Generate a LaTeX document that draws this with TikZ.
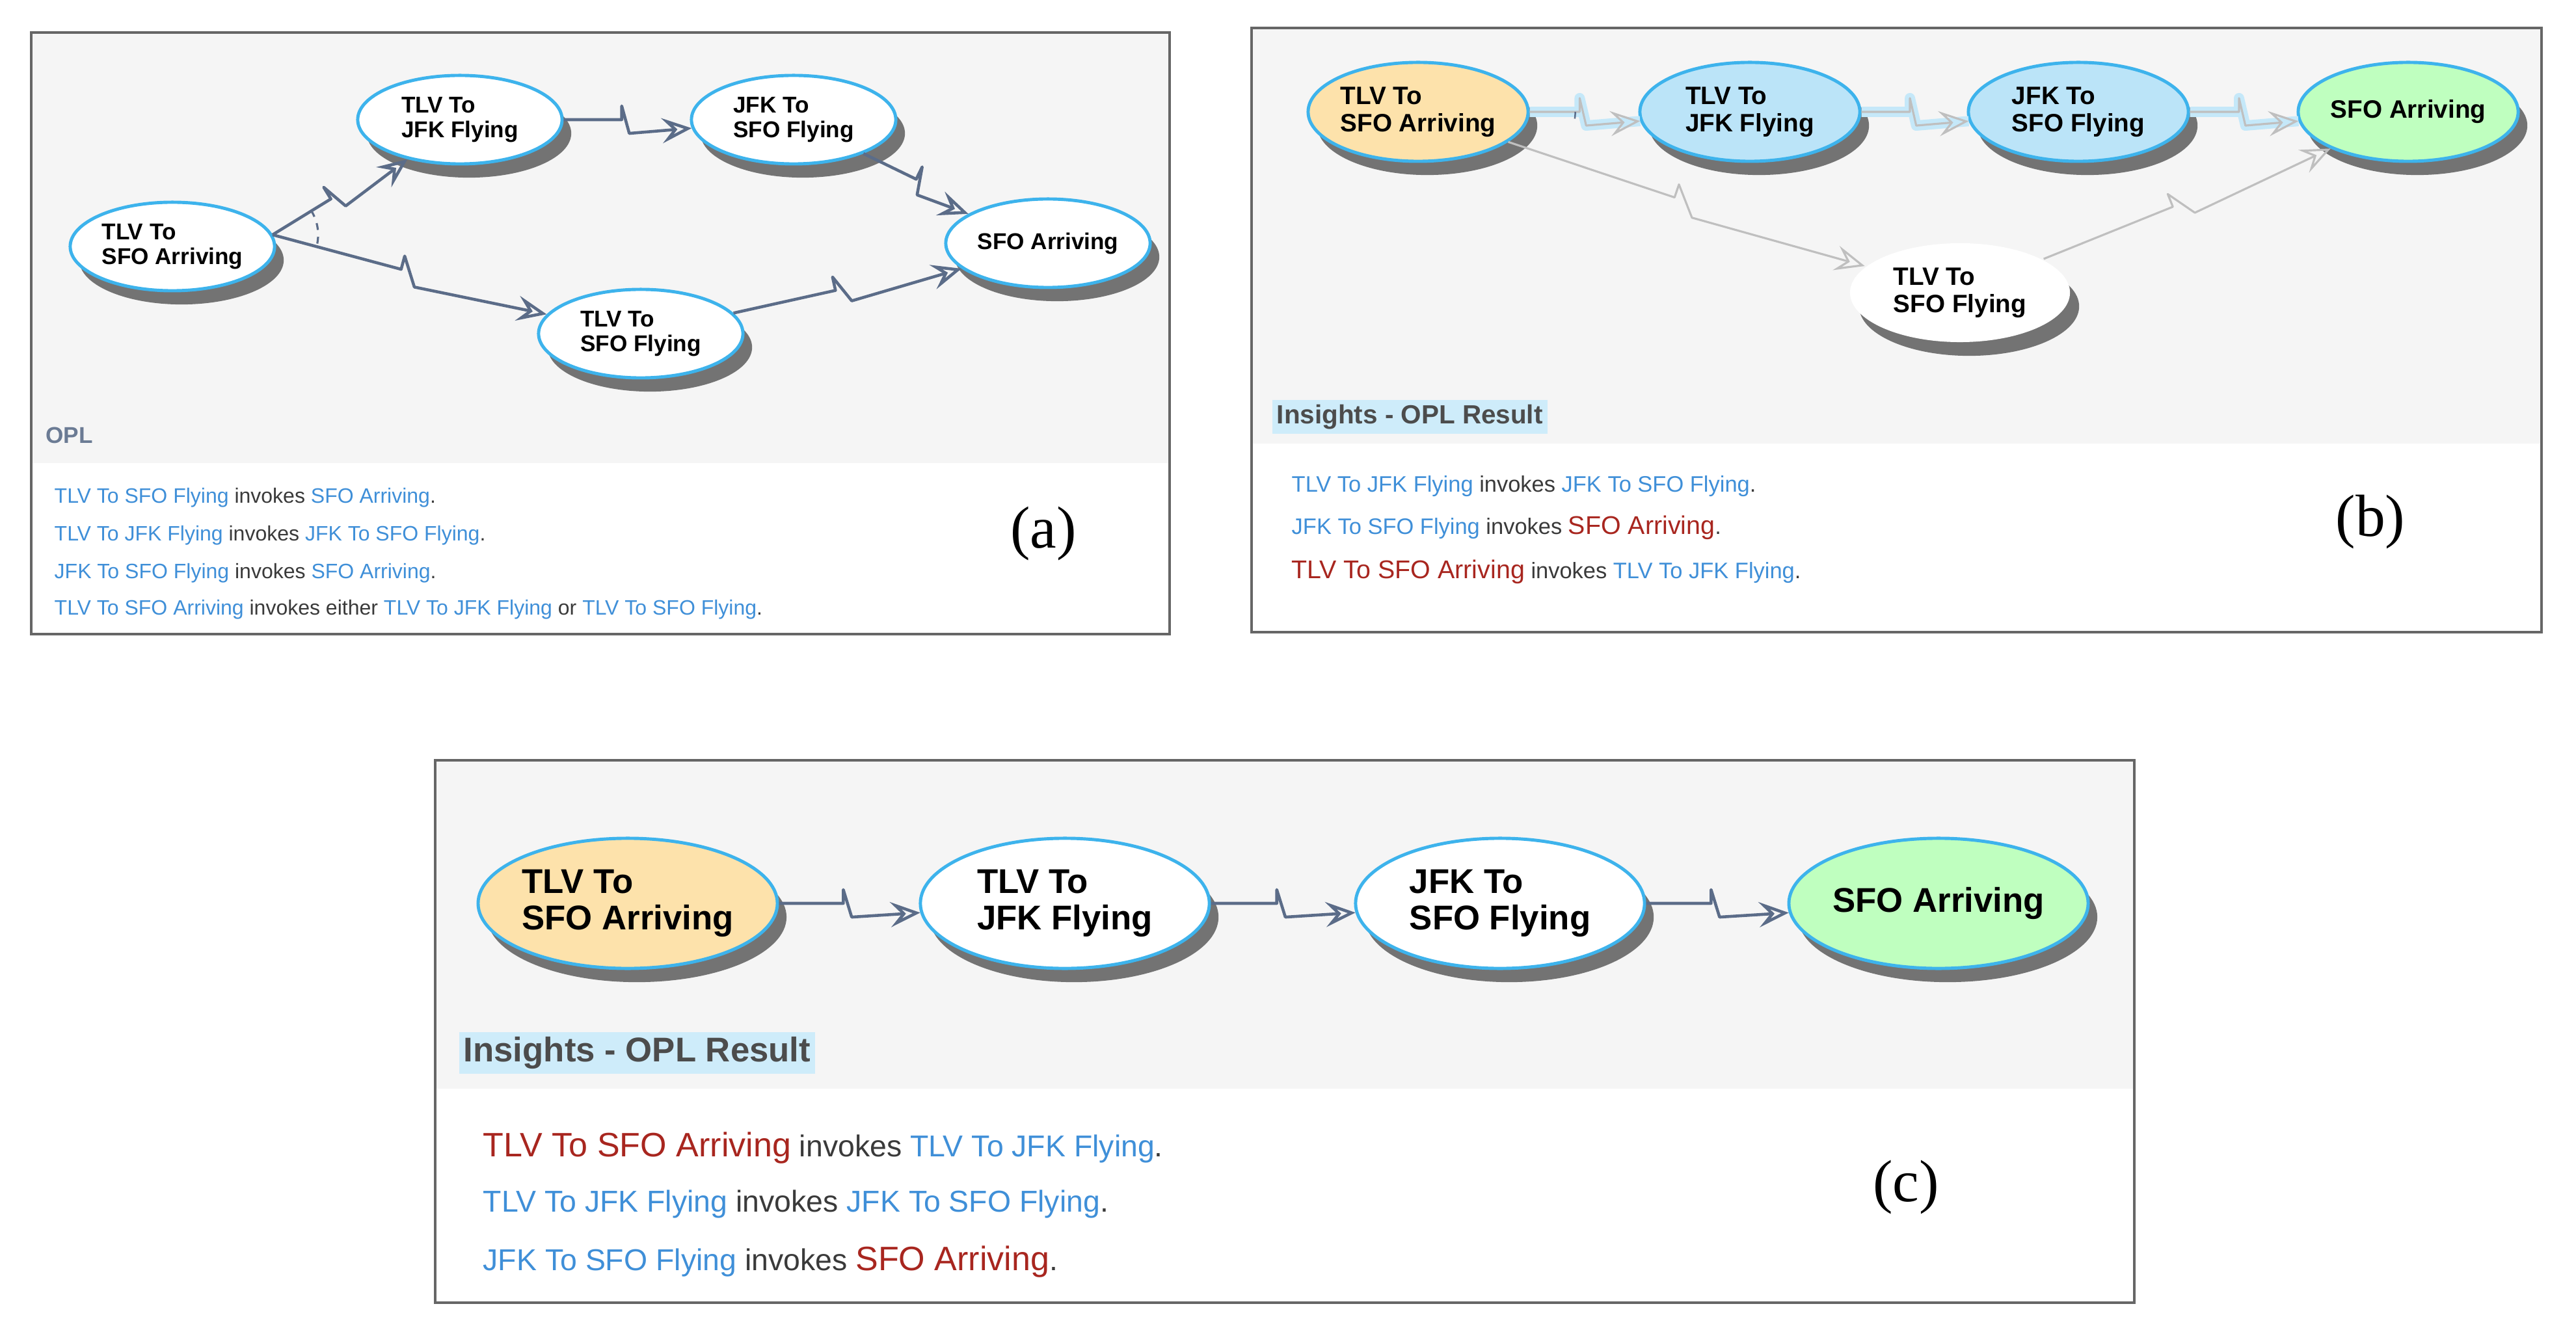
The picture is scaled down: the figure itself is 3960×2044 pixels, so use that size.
\documentclass[tikz,border=0pt]{standalone}
\usepackage{fontspec}
\setmainfont{Liberation Sans}
\newfontfamily\tms{Liberation Serif}
\usetikzlibrary{shapes.geometric, arrows.meta, calc, shadows}
\definecolor{oplblue}{HTML}{3F8FD8}
\definecolor{oplred}{HTML}{A8261F}
\definecolor{oplgray}{HTML}{3A3A3A}
\definecolor{rim}{HTML}{3DB3EC}
\definecolor{lnk}{HTML}{5B6C88}
\definecolor{bgray}{HTML}{F5F5F5}
\tikzset{
    x=0.01cm, y=0.01cm,
    proc/.style={ellipse, draw=rim, line width=1.4pt, fill=white, align=left,
        font=\bfseries, inner sep=0pt,
        drop shadow={shadow xshift=4pt, shadow yshift=-6pt, fill=black!55, opacity=1}},
    % sizes of the three panels
    pa/.style={proc, minimum width=3.14cm, minimum height=1.36cm, font=\fontsize{10}{11}\selectfont\bfseries},
    pb/.style={proc, minimum width=3.38cm, minimum height=1.52cm, font=\fontsize{11}{12}\selectfont\bfseries},
    pc/.style={proc, minimum width=4.44cm, minimum height=2.0cm, font=\fontsize{15}{16}\selectfont\bfseries},
    invk/.style={draw=lnk, line width=1.3pt, line join=round,
        -{Stealth[open, length=13pt, width=11pt, inset=5pt]}},
    faint/.style={invk, draw=black!25, line width=0.9pt},
    glow/.style={draw=rim!30, line width=4.5pt, line join=round},
    frm/.style={draw=black!60, line width=1.2pt},
    opl/.style={anchor=west, inner sep=0pt, text=oplgray},
    hdr/.style={anchor=west, font=\bfseries, text=black!70, fill=rim!25, inner sep=2pt},
    tag/.style={font=\tms\fontsize{26}{28}\selectfont},
}
\newcommand{\bl}[1]{\textcolor{oplblue}{#1}}
\newcommand{\rd}[1]{\textcolor{oplred}{#1}}
% zig-zag invocation link between two nodes
\newcommand{\inv}[3][invk]{%
    \path (#2) -- (#3) coordinate[pos=0.46] (m1) coordinate[pos=0.52] (m2);
    \draw[#1] (#2) -- (m1) -- ($(m1)!6pt!90:(#3)$) -- ($(m2)!6pt!-90:(#3)$) -- (#3);}
\begin{document}
\begin{tikzpicture}
\useasboundingbox (0,0) rectangle (3960,2044);

% ---------- panel (a)
\fill[bgray] (48,1332) rectangle (1798,1994);
\draw[frm] (48,1069) rectangle (1798,1994);
\node[pa] (a1) at (265,1665) {TLV To\\SFO Arriving};
\node[pa] (a2) at (707,1860) {TLV To\\JFK Flying};
\node[pa] (a3) at (1220,1860) {JFK To\\SFO Flying};
\node[pa] (a4) at (1611,1670) {SFO Arriving};
\node[pa] (a5) at (985,1531) {TLV To\\SFO Flying};
\coordinate (fk) at (419,1683);
\inv{fk}{a2}
\inv{fk}{a5}
\inv{a2}{a3}
\inv{a3}{a4}
\inv{a5}{a4}
\draw[lnk, dashed, line width=0.9pt] ($(fk)+(32:0.7cm)$) arc[start angle=32, end angle=-14, radius=0.7cm];
\node[anchor=west, font=\fontsize{10}{11}\selectfont\bfseries, text=lnk!90] (aopl) at (58,1375) {OPL};
\begin{scope}[font=\fontsize{9.1}{10}\selectfont]
\node[opl] (al1) at (83,1279) {\bl{TLV To SFO Flying} invokes \bl{SFO Arriving}.};
\node[opl] (al2) at (83,1221) {\bl{TLV To JFK Flying} invokes \bl{JFK To SFO Flying}.};
\node[opl] (al3) at (83,1163) {\bl{JFK To SFO Flying} invokes \bl{SFO Arriving}.};
\node[opl] (al4) at (83,1107) {\bl{TLV To SFO Arriving} invokes either \bl{TLV To JFK Flying} or \bl{TLV To SFO Flying}.};
\end{scope}
\node[tag] (ta) at (1604,1223) {(a)};

% ---------- panel (b)
\fill[bgray] (1924,1362) rectangle (3907,2001);
\draw[frm] (1924,1072) rectangle (3907,2001);
\node[pb, fill=yellow!30!orange!30] (b1) at (2180,1872) {TLV To\\SFO Arriving};
\node[pb, fill=rim!35] (b2) at (2690,1872) {TLV To\\JFK Flying};
\node[pb, fill=rim!35] (b3) at (3195,1872) {JFK To\\SFO Flying};
\node[pb, fill=green!25] (b4) at (3702,1872) {SFO Arriving};
\node[pb, draw=none] (b5) at (3013,1594) {TLV To\\SFO Flying};
\inv[faint]{b1}{b5}
\inv[faint]{b5}{b4}
\inv[glow]{b1}{b2}
\inv[glow]{b2}{b3}
\inv[glow]{b3}{b4}
\inv[faint]{b1}{b2}
\inv[faint]{b2}{b3}
\inv[faint]{b3}{b4}
\draw[lnk, dashed, line width=0.7pt] ($(b1.east)+(0:0.7cm)$) arc[start angle=0, end angle=-12, radius=0.7cm];
\node[hdr, font=\fontsize{11.5}{13}\selectfont\bfseries] (bh) at (1955,1403) {Insights - OPL Result};
\begin{scope}[font=\fontsize{9.8}{11}\selectfont]
\node[opl] (bl1) at (1985,1296) {\bl{TLV To JFK Flying} invokes \bl{JFK To SFO Flying}.};
\node[opl] (bl2) at (1985,1233) {\bl{JFK To SFO Flying} invokes \rd{\fontsize{11.2}{12}\selectfont SFO Arriving}.};
\node[opl] (bl3) at (1985,1165) {\rd{\fontsize{11.2}{12}\selectfont TLV To SFO Arriving} invokes \bl{TLV To JFK Flying}.};
\end{scope}
\node[tag] (tb) at (3644,1241) {(b)};

% ---------- panel (c)
\fill[bgray] (669,370) rectangle (3281,875);
\draw[frm] (669,41) rectangle (3281,875);
\node[pc, fill=yellow!30!orange!30] (c1) at (965,655) {TLV To\\SFO Arriving};
\node[pc] (c2) at (1637,655) {TLV To\\JFK Flying};
\node[pc] (c3) at (2306,655) {JFK To\\SFO Flying};
\node[pc, fill=green!25] (c4) at (2980,655) {SFO Arriving};
\inv{c1}{c2}
\inv{c2}{c3}
\inv{c3}{c4}
\node[hdr, font=\fontsize{15}{17}\selectfont\bfseries] (ch) at (705,425) {Insights - OPL Result};
\begin{scope}[font=\fontsize{13.2}{15}\selectfont]
\node[opl] (cl1) at (742,279) {\rd{\fontsize{14.8}{16}\selectfont TLV To SFO Arriving} invokes \bl{TLV To JFK Flying}.};
\node[opl] (cl2) at (742,193) {\bl{TLV To JFK Flying} invokes \bl{JFK To SFO Flying}.};
\node[opl] (cl3) at (742,104) {\bl{JFK To SFO Flying} invokes \rd{\fontsize{14.8}{16}\selectfont SFO Arriving}.};
\end{scope}
\node[tag] (tc) at (2930,218) {(c)};
\end{tikzpicture}
\end{document}
